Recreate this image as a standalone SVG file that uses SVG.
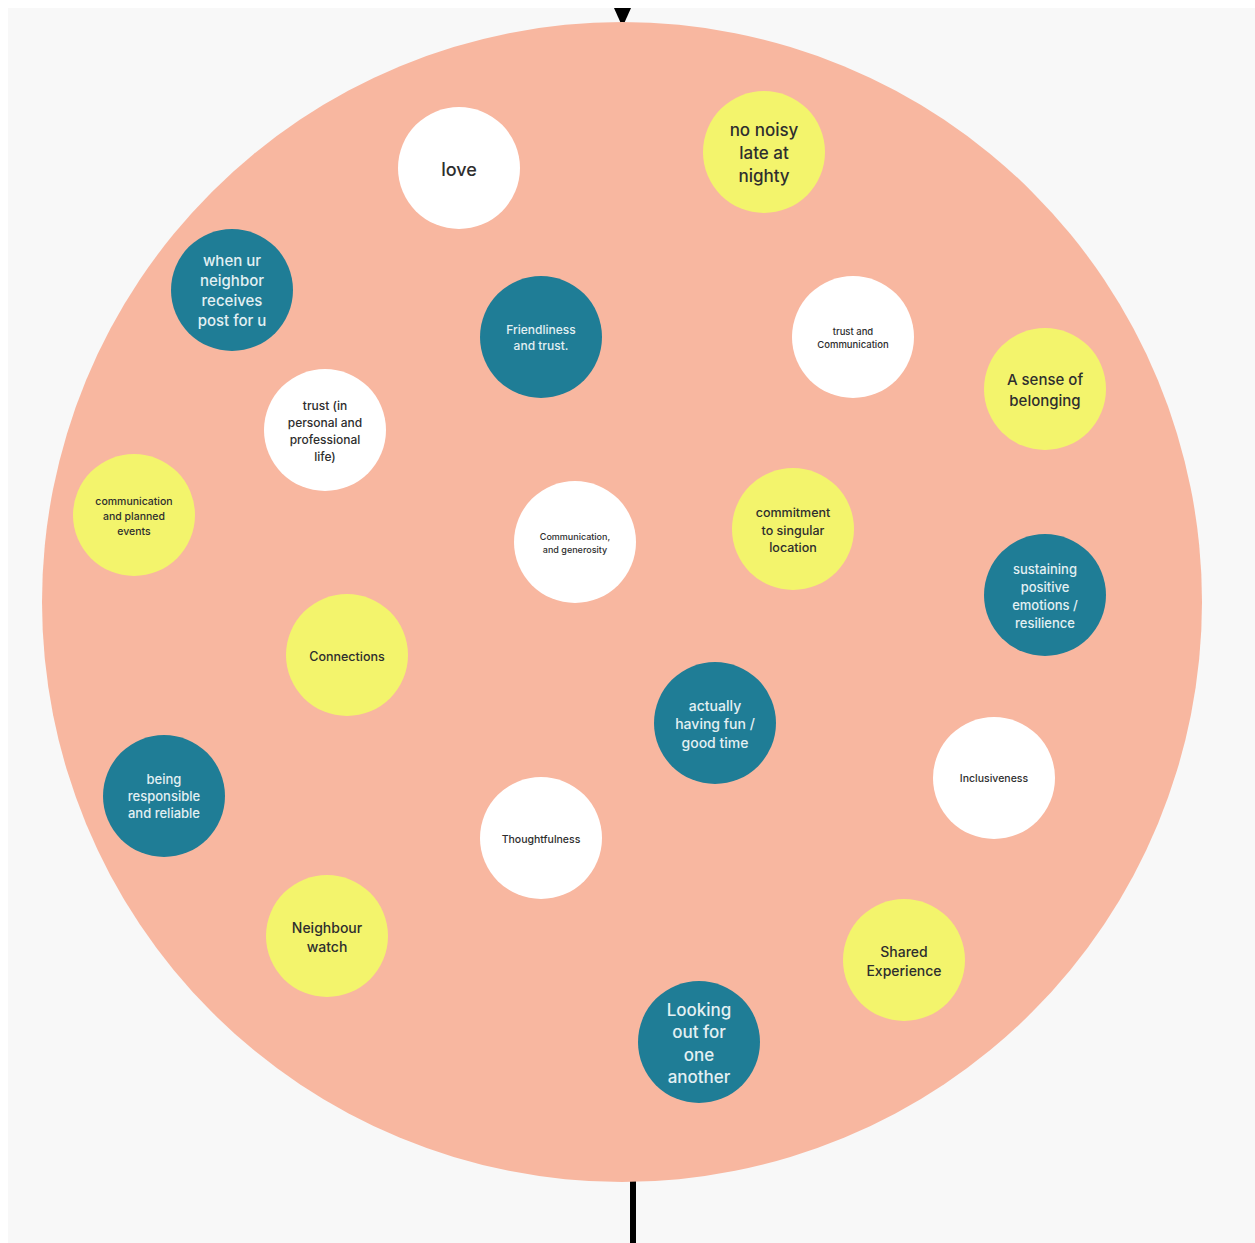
<svg xmlns="http://www.w3.org/2000/svg" width="1255" height="1243" viewBox="0 0 1255 1243">
<style>
  .t { font-family: Inter, "Liberation Sans", sans-serif; font-weight: 500; text-anchor: middle; dominant-baseline: central; }
  .w { fill: #ffffff; }
  .y { fill: #f3f46c; }
  .b { fill: #1f7d96; }
  .dk { fill: #2e2e2e; }
  .lt { fill: #e3f0f3; }
</style>
<rect x="0" y="0" width="1255" height="1243" fill="#ffffff"/>
<rect x="8" y="8" width="1247" height="1235" fill="#f8f8f8"/>
<g id="connectors">
  <line x1="633" y1="1175" x2="633" y2="1243" stroke="#000" stroke-width="6"/>
  <polygon points="614,8 631,8 622.5,27" fill="#000"/>
</g>
<g id="main-circle"><circle cx="622" cy="602" r="580" fill="#f8b7a0"/></g>
<g id="love"><circle cx="459" cy="168" r="61" class="w"/><text class="t dk" x="459" y="169" font-size="18">love</text></g>
<g id="no-noisy"><circle cx="764" cy="152" r="61" class="y"/><text class="t dk" x="764" font-size="17"><tspan x="764" y="130">no noisy</tspan><tspan x="764" y="153">late at</tspan><tspan x="764" y="176">nighty</tspan></text></g>
<g id="post"><circle cx="232" cy="290" r="61" class="b"/><text class="t lt" font-size="15"><tspan x="232" y="260">when ur</tspan><tspan x="232" y="280">neighbor</tspan><tspan x="232" y="300">receives</tspan><tspan x="232" y="320">post for u</tspan></text></g>
<g id="friendliness"><circle cx="541" cy="337" r="61" class="b"/><text class="t lt" font-size="12"><tspan x="541" y="329">Friendliness</tspan><tspan x="541" y="345">and trust.</tspan></text></g>
<g id="trust-comm"><circle cx="853" cy="337" r="61" class="w"/><text class="t dk" font-size="9.5"><tspan x="853" y="331">trust and</tspan><tspan x="853" y="344">Communication</tspan></text></g>
<g id="belonging"><circle cx="1045" cy="389" r="61" class="y"/><text class="t dk" font-size="15"><tspan x="1045" y="379">A sense of</tspan><tspan x="1045" y="400">belonging</tspan></text></g>
<g id="trust-in"><circle cx="325" cy="430" r="61" class="w"/><text class="t dk" font-size="12"><tspan x="325" y="405">trust (in</tspan><tspan x="325" y="422">personal and</tspan><tspan x="325" y="439">professional</tspan><tspan x="325" y="456">life)</tspan></text></g>
<g id="comm-events"><circle cx="134" cy="515" r="61" class="y"/><text class="t dk" font-size="10.5"><tspan x="134" y="501">communication</tspan><tspan x="134" y="516">and planned</tspan><tspan x="134" y="531">events</tspan></text></g>
<g id="comm-generosity"><circle cx="575" cy="542" r="61" class="w"/><text class="t dk" font-size="9"><tspan x="575" y="536">Communication,</tspan><tspan x="575" y="549">and generosity</tspan></text></g>
<g id="commitment"><circle cx="793" cy="529" r="61" class="y"/><text class="t dk" font-size="12.5"><tspan x="793" y="512">commitment</tspan><tspan x="793" y="530">to singular</tspan><tspan x="793" y="547">location</tspan></text></g>
<g id="sustaining"><circle cx="1045" cy="595" r="61" class="b"/><text class="t lt" font-size="13"><tspan x="1045" y="569">sustaining</tspan><tspan x="1045" y="587">positive</tspan><tspan x="1045" y="605">emotions /</tspan><tspan x="1045" y="623">resilience</tspan></text></g>
<g id="connections"><circle cx="347" cy="655" r="61" class="y"/><text class="t dk" x="347" y="656" font-size="12.5">Connections</text></g>
<g id="fun"><circle cx="715" cy="723" r="61" class="b"/><text class="t lt" font-size="14"><tspan x="715" y="705">actually</tspan><tspan x="715" y="723">having fun /</tspan><tspan x="715" y="742">good time</tspan></text></g>
<g id="inclusiveness"><circle cx="994" cy="778" r="61" class="w"/><text class="t dk" x="994" y="778" font-size="10.5">Inclusiveness</text></g>
<g id="responsible"><circle cx="164" cy="796" r="61" class="b"/><text class="t lt" font-size="13"><tspan x="164" y="779">being</tspan><tspan x="164" y="796">responsible</tspan><tspan x="164" y="813">and reliable</tspan></text></g>
<g id="thoughtfulness"><circle cx="541" cy="838" r="61" class="w"/><text class="t dk" x="541" y="839" font-size="10.5">Thoughtfulness</text></g>
<g id="neighbour-watch"><circle cx="327" cy="936" r="61" class="y"/><text class="t dk" font-size="14"><tspan x="327" y="927">Neighbour</tspan><tspan x="327" y="946">watch</tspan></text></g>
<g id="shared"><circle cx="904" cy="960" r="61" class="y"/><text class="t dk" font-size="14"><tspan x="904" y="951">Shared</tspan><tspan x="904" y="970">Experience</tspan></text></g>
<g id="looking-out"><circle cx="699" cy="1042" r="61" class="b"/><text class="t lt" font-size="17"><tspan x="699" y="1010">Looking</tspan><tspan x="699" y="1032">out for</tspan><tspan x="699" y="1055">one</tspan><tspan x="699" y="1077">another</tspan></text></g>
</svg>
